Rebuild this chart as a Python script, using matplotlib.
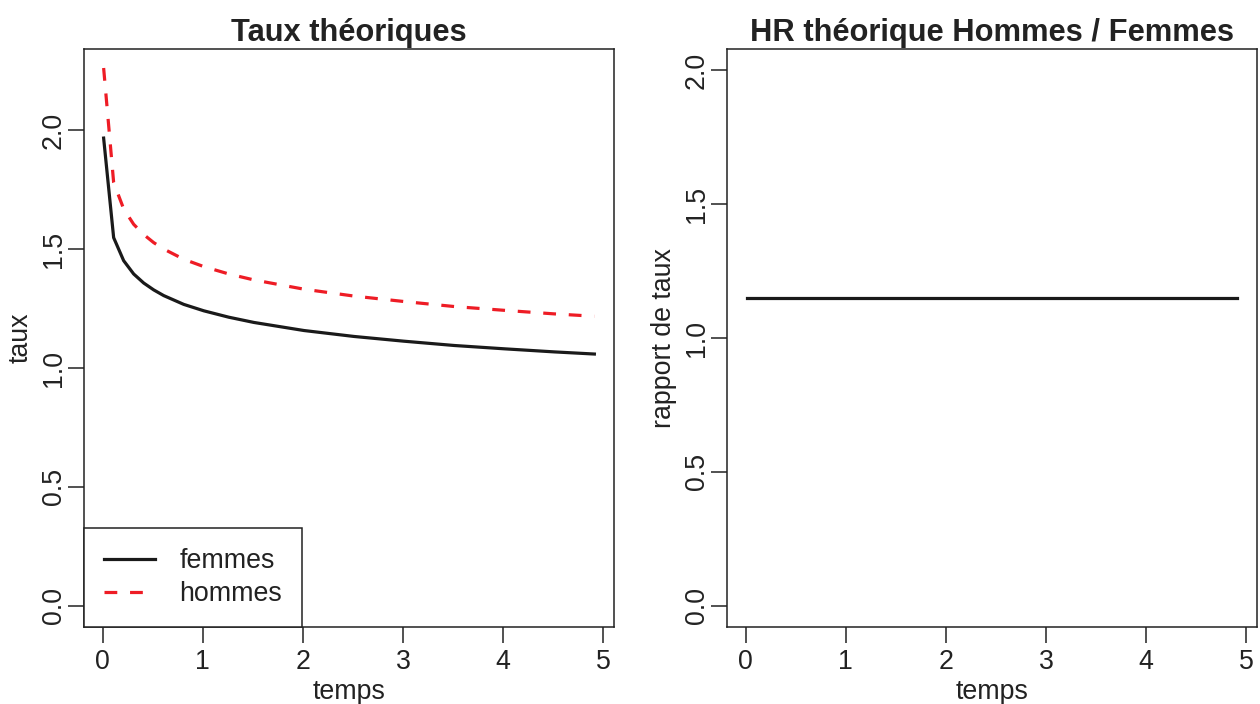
import numpy as np
import matplotlib.pyplot as plt

plt.rcParams['font.family'] = ['Liberation Sans', 'DejaVu Sans']

# values
temps = [0.01, 0.11, 0.21, 0.31, 0.41, 0.51, 0.61, 0.81, 1.01, 1.26, 1.51,
         2.01, 2.51, 3.01, 3.51, 4.01, 4.51, 4.91]
femmes = [1.968, 1.549, 1.452, 1.396, 1.358, 1.329, 1.305, 1.268, 1.241, 1.214,
          1.192, 1.158, 1.133, 1.113, 1.095, 1.081, 1.068, 1.059]
hommes = [2.263, 1.781, 1.670, 1.605, 1.562, 1.528, 1.501, 1.458, 1.427, 1.396,
          1.371, 1.332, 1.303, 1.280, 1.259, 1.243, 1.228, 1.218]

hr_temps = [0.01, 4.91]
hr = [1.15, 1.15]

xticks = [0, 1, 2, 3, 4, 5]
yticks = [0.0, 0.5, 1.0, 1.5, 2.0]

FS = 19.3
TFS = 22.2

fig = plt.figure(figsize=(12.6, 7.04), dpi=100)
ax1 = fig.add_axes([84 / 1260, 77 / 704, 530 / 1260, 578 / 704])
ax2 = fig.add_axes([727 / 1260, 77 / 704, 530 / 1260, 578 / 704])


def style(ax):
    for s in ax.spines.values():
        s.set_linewidth(1.1)
        s.set_color('#222222')
    ax.tick_params(direction='out', length=11.5, width=1.1, color='#222222',
                   labelsize=FS, labelcolor='#222222')
    ax.tick_params(axis='x', pad=4)
    ax.tick_params(axis='y', pad=1, labelrotation=90)
    ax.set_xticks(xticks)
    ax.set_yticks(yticks)
    ax.set_xticklabels([str(v) for v in xticks])
    ax.set_yticklabels(['%.1f' % v for v in yticks], va='center')
    ax.set_xlim(-0.186, 5.106)


# left panel
ax1.plot(temps, femmes, color='#1a1a1a', lw=2.3, label='femmes')
ax1.plot(temps, hommes, color='#ee1c25', lw=2.3, ls=(0, (4, 4)), label='hommes')
style(ax1)
ax1.set_ylim(-0.09, 2.343)
ax1.set_title('Taux théoriques', fontsize=TFS, fontweight='bold', pad=6, color='#222222')
ax1.set_xlabel('temps', fontsize=FS, labelpad=3, color='#222222')
ax1.set_ylabel('taux', fontsize=FS, labelpad=5, color='#222222')
leg = ax1.legend(loc='lower left', borderaxespad=0, fancybox=False, framealpha=1,
                 edgecolor='#222222', fontsize=FS, handlelength=1.9,
                 handletextpad=0.9, borderpad=0.75, labelspacing=0.25)
leg.get_frame().set_linewidth(1.1)
for t in leg.get_texts():
    t.set_color('#222222')

# right panel
ax2.plot(hr_temps, hr, color='#1a1a1a', lw=2.3)
style(ax2)
ax2.set_ylim(-0.08, 2.08)
ax2.set_title('HR théorique Hommes / Femmes', fontsize=TFS, fontweight='bold', pad=6,
              color='#222222')
ax2.set_xlabel('temps', fontsize=FS, labelpad=3, color='#222222')
ax2.set_ylabel('rapport de taux', fontsize=FS, labelpad=5, color='#222222')

plt.savefig('out.png', dpi=100)
